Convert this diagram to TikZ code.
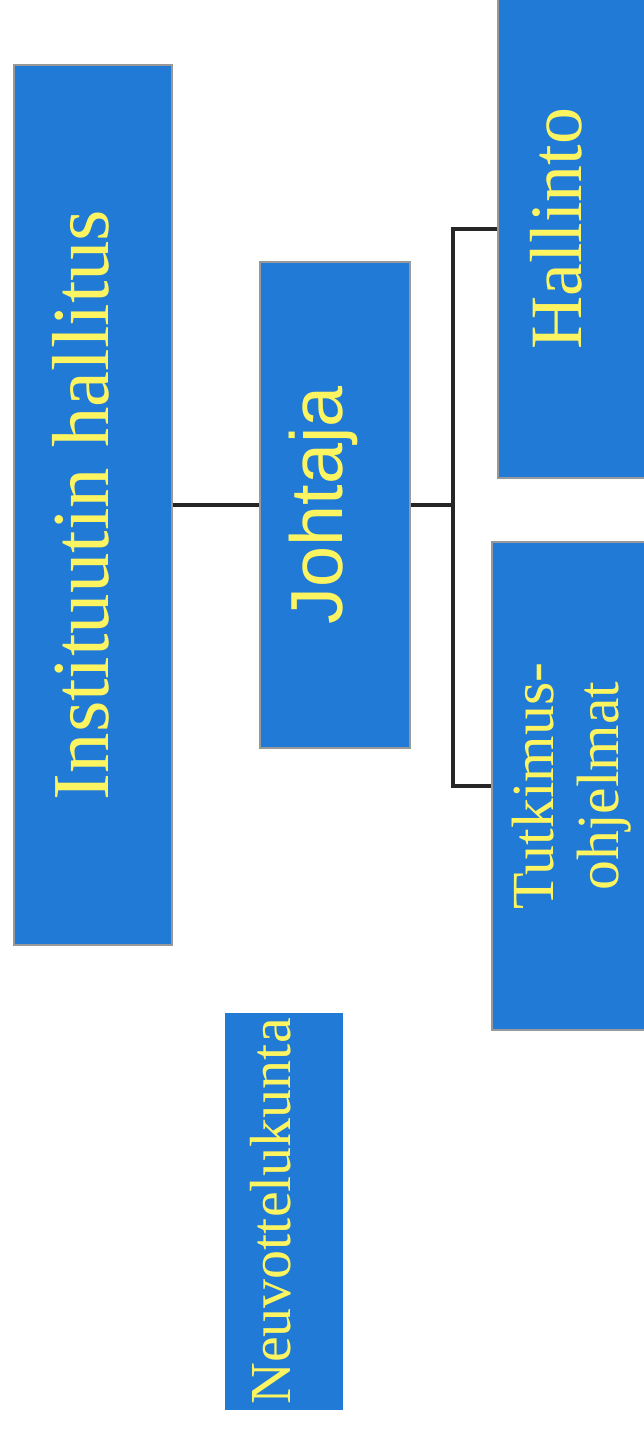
\documentclass[tikz,border=0pt]{standalone}
\usepackage{fontspec}
\setmainfont{Liberation Serif}
\newfontfamily\arialfont{Liberation Sans}
\usepackage{tikz}
\usetikzlibrary{positioning}
\definecolor{boxblue}{RGB}{32,122,214}
\definecolor{textyellow}{RGB}{252,244,96}

\begin{document}
\begin{tikzpicture}
    [
boxnode/.style={rectangle, rotate=90, draw=gray!80, fill=boxblue, line width=0.8pt, text=textyellow, inner sep=0pt, align=center},
linkline/.style={draw=black!85, line width=2pt}
]
\useasboundingbox (0,0) rectangle (12.88,-28.92);
\clip (0,0) rectangle (12.88,-28.92);
\node[boxnode, minimum width=17.6cm, minimum height=3.16cm, font=\fontsize{46}{50}\selectfont](node1) at (1.86,-10.1) {\raisebox{14pt}{Instituutin hallitus}};
\node[boxnode, minimum width=9.72cm, minimum height=3.0cm, font=\arialfont\fontsize{42}{46}\selectfont](node2) at (6.7,-10.1) {\raisebox{22pt}{Johtaja}};
\node[boxnode, minimum width=9.96cm, minimum height=3.08cm, font=\fontsize{42}{46}\selectfont](node3) at (11.5,-4.58) {\raisebox{22pt}{Hallinto}};
\node[boxnode, minimum width=9.76cm, minimum height=3.2cm, font=\fontsize{34}{37}\selectfont](node4) at (11.44,-15.72) {Tutkimus-\\ohjelmat};
\node[boxnode, draw=none, minimum width=7.94cm, minimum height=2.36cm, font=\fontsize{33}{36}\selectfont](node5) at (5.68,-24.23) {\raisebox{16pt}{Neuvottelukunta}};
\coordinate (bus) at (9.06,-10.1);

\draw[linkline] (node1) -- (node2);
\draw[linkline] (node2) -- (bus);
\draw[linkline] (node3) -| (bus);
\draw[linkline] (node4) -| (bus);
\end{tikzpicture}
\end{document}
